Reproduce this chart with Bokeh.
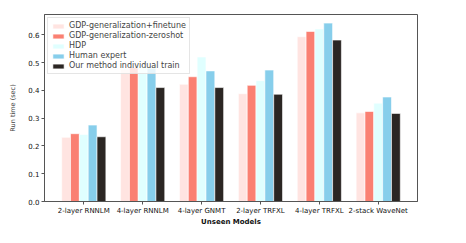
from bokeh.plotting import figure
from bokeh.models import ColumnDataSource, Range1d, FixedTicker, PrintfTickFormatter, Legend, LegendItem, Title
from bokeh.transform import dodge
from bokeh.embed import file_html
from bokeh.resources import INLINE

models = ["2-layer RNNLM", "4-layer RNNLM", "4-layer GNMT", "2-layer TRFXL", "4-layer TRFXL", "2-stack WaveNet"]
gdp_finetune = [0.231, 0.475, 0.422, 0.388, 0.593, 0.319]
gdp_zeroshot = [0.244, 0.482, 0.449, 0.418, 0.612, 0.324]
hdp = [0.241, 0.489, 0.520, 0.435, 0.621, 0.354]
human = [0.275, 0.480, 0.470, 0.473, 0.642, 0.376]
ours = [0.233, 0.410, 0.410, 0.386, 0.581, 0.317]

series_names = ["GDP-generalization+finetune", "GDP-generalization-zeroshot", "HDP",
                "Human expert", "Our method individual train"]
series_keys = ["gdp_finetune", "gdp_zeroshot", "hdp", "human", "ours"]
colors = ["#FFE4E1", "#FA8072", "#E0FFFF", "#87CEEB", "#2B2623"]
yticks = [0.0, 0.1, 0.2, 0.3, 0.4, 0.5, 0.6]

src = ColumnDataSource(dict(x=list(range(len(models))), gdp_finetune=gdp_finetune,
                            gdp_zeroshot=gdp_zeroshot, hdp=hdp, human=human, ours=ours))

FONT = "DejaVu Sans"
p = figure(width=450, height=227, output_backend="svg", toolbar_location=None,
           x_range=Range1d(-0.667, len(models) - 1 + 0.667), y_range=Range1d(0, 0.673),
           min_border=0, min_border_left=44, min_border_right=33, min_border_top=14,
           min_border_bottom=0)

bw = 0.15
offsets = [-2 * bw, -bw, 0, bw, 2 * bw]
items = []
for key, name, col, off in zip(series_keys, series_names, colors, offsets):
    r = p.vbar(x=dodge("x", off), top=key, width=bw, source=src, fill_color=col,
               line_color="white", line_width=0.6)
    items.append(LegendItem(label=name, renderers=[r]))

legend = Legend(items=items, location="top_left")
legend.label_text_font = FONT
legend.label_text_font_size = "8px"
legend.glyph_height = 6
legend.glyph_width = 14
legend.label_height = 8
legend.spacing = 1
legend.padding = 3
legend.margin = 3
legend.label_standoff = 4
legend.border_line_color = "#cccccc"
legend.background_fill_alpha = 0.8
p.add_layout(legend)

p.grid.visible = False
p.outline_line_color = "#555555"
p.outline_line_width = 1

xtitle = Title(text="Unseen Models", align="center", text_font=FONT, text_font_size="7px",
               text_font_style="bold", standoff=0, offset=0, vertical_align="top",
               text_color="#111111")
p.add_layout(xtitle, "below")

p.xaxis.ticker = FixedTicker(ticks=list(range(len(models))))
p.xaxis.major_label_overrides = {i: m for i, m in enumerate(models)}
p.yaxis.axis_label = "Run time (sec)"
p.yaxis.axis_label_text_font_style = "normal"
p.yaxis.ticker = FixedTicker(ticks=yticks)
p.yaxis.formatter = PrintfTickFormatter(format="%.1f")

for ax in [p.xaxis[0], p.yaxis[0]]:
    ax.major_label_text_font = FONT
    ax.major_label_text_font_size = "7px"
    ax.axis_label_text_font = FONT
    ax.axis_label_text_font_size = "7px"
    ax.axis_line_color = "#555555"
    ax.major_tick_line_color = "#555555"
    ax.major_tick_out = 3
    ax.major_tick_in = 0
    ax.minor_tick_line_color = None
    ax.major_label_standoff = 2
    ax.axis_label_standoff = 2
    ax.major_label_text_color = "#111111"
p.yaxis.axis_label_text_font_size = "6.5px"
p.yaxis.axis_label_standoff = 8

open("out.html", "w").write(file_html(p, INLINE))
